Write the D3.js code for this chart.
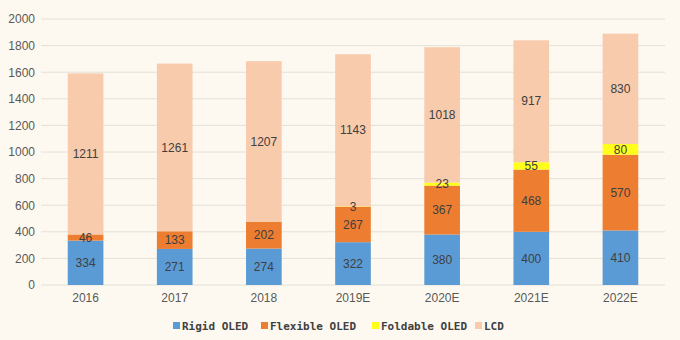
<!DOCTYPE html>
<html><head><meta charset="utf-8">
<script src="https://cdn.jsdelivr.net/npm/d3@7"></script>
<style>
html,body{margin:0;padding:0;background:#FDF9F0;}
svg{display:block;}
</style></head>
<body>
<svg id="chart" width="680" height="340"></svg>
<script>
const categories = ["2016","2017","2018","2019E","2020E","2021E","2022E"];
const seriesNames = ["Rigid OLED","Flexible OLED","Foldable OLED","LCD"];
const rigid = [334,271,274,322,380,400,410];
const flexible = [46,133,202,267,367,468,570];
const foldable = [0,0,0,3,23,55,80];
const lcd = [1211,1261,1207,1143,1018,917,830];
const yTicks = [0,200,400,600,800,1000,1200,1400,1600,1800,2000];
const colors = ["#5B9BD5","#ED7D31","#FFFF1A","#F8CBAD"];

const svg = d3.select("#chart");
const W = 680, H = 340;
const m = {left:41, right:15, top:19, bottom:55};
const x = d3.scaleBand().domain(categories).range([m.left, W - m.right]).paddingInner(0.6).paddingOuter(0.3);
const y = d3.scaleLinear().domain([0,2000]).range([H - m.bottom, m.top]);

svg.append("rect").attr("width",W).attr("height",H).attr("fill","#FDF9F0");

// gridlines
svg.append("g").selectAll("line").data(yTicks).join("line")
  .attr("x1", m.left).attr("x2", W - m.right)
  .attr("y1", d=>y(d)).attr("y2", d=>y(d))
  .attr("stroke","#E4E0D6").attr("stroke-width",1);

const yAxis = d3.axisLeft(y).tickValues(yTicks).tickFormat(d3.format("d")).tickSize(0).tickPadding(6);
const gy = svg.append("g").attr("transform",`translate(${m.left},0)`).call(yAxis);
gy.select(".domain").remove();
gy.selectAll("text").attr("fill","#595959").attr("font-size","12px").attr("font-family","Liberation Sans, Arial, sans-serif");

const xAxis = d3.axisBottom(x).tickSize(0).tickPadding(8);
const gx = svg.append("g").attr("transform",`translate(0,${y(0)})`).call(xAxis);
gx.select(".domain").remove();
gx.selectAll("text").attr("fill","#595959").attr("font-size","12px").attr("font-family","Liberation Sans, Arial, sans-serif");

const table = categories.map((c,i)=>({cat:c, "Rigid OLED":rigid[i], "Flexible OLED":flexible[i], "Foldable OLED":foldable[i], "LCD":lcd[i]}));
const stacked = d3.stack().keys(seriesNames)(table);

const layers = svg.append("g").selectAll("g").data(stacked).join("g").attr("fill",(d,i)=>colors[i]);
layers.selectAll("rect").data(d=>d).join("rect")
  .attr("x", d=>x(d.data.cat)).attr("width", x.bandwidth())
  .attr("y", d=>y(d[1])).attr("height", d=>y(d[0]) - y(d[1]));

const labels = svg.append("g");
stacked.forEach((s,si)=>{
  s.forEach(d=>{
    const v = d[1]-d[0];
    if (v <= 0) return;
    labels.append("text")
      .attr("x", x(d.data.cat) + x.bandwidth()/2)
      .attr("y", y((d[0]+d[1])/2))
      .attr("dy","0.35em")
      .attr("text-anchor","middle")
      .attr("fill","#404040")
      .attr("font-size","12px")
      .attr("font-family","Liberation Sans, Arial, sans-serif")
      .text(v);
  });
});

// legend
const legendX = [173, 261, 372, 475];
const lg = svg.append("g").attr("transform",`translate(0,326)`);
seriesNames.forEach((n,i)=>{
  lg.append("rect").attr("x",legendX[i]).attr("y",-4).attr("width",7).attr("height",7).attr("fill",colors[i]);
  lg.append("text").attr("x",legendX[i]+9).attr("y",0).attr("dy","0.35em")
    .attr("fill","#404040").attr("font-size","11px").attr("font-weight","bold")
    .attr("font-family","DejaVu Sans Mono, monospace").text(n);
});
</script>
</body></html>
